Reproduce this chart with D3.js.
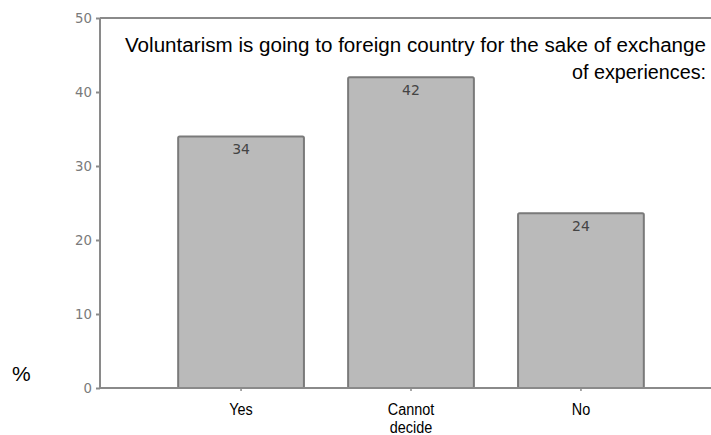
<!DOCTYPE html>
<html>
<head>
<meta charset="utf-8">
<style>
  body { margin: 0; background: #fff; }
  svg { display: block; }
  .axis path, .axis line { stroke: #8a8a8a; stroke-width: 2px; }
  .axis text { fill: #7a7a7a; font-family: "DejaVu Sans", sans-serif; font-size: 14px; }
</style>
</head>
<body>
<div id="chart"></div>
<script src="https://cdn.jsdelivr.net/npm/d3@7"></script>
<script>
var categories = [["Yes"], ["Cannot", "decide"], ["No"]];
var values = [34, 42, 23.6];
var valueLabels = ["34", "42", "24"];
var yTicks = [0, 10, 20, 30, 40, 50];
var titleLines = ["Voluntarism is going to foreign country for the sake of exchange", "of experiences:"];

var W = 711, H = 435;
var svg = d3.select("#chart").append("svg").attr("width", W).attr("height", H);

var y = d3.scaleLinear().domain([0, 50]).range([388, 18]);
var x = d3.scaleBand().domain(d3.range(values.length)).range([100, 722])
  .paddingInner(0.26).paddingOuter(0.46);

// squeeze text horizontally, like a narrow font
function narrow(sel, ratio) {
  sel.each(function() {
    var w = this.getComputedTextLength();
    d3.select(this).attr("textLength", w * ratio).attr("lengthAdjust", "spacingAndGlyphs");
  });
}

// frame: top line and left axis
svg.append("line").attr("x1", 100).attr("x2", W).attr("y1", y(50)).attr("y2", y(50))
  .attr("stroke", "#8a8a8a").attr("stroke-width", 2);

var yAxis = svg.append("g").attr("class", "axis").attr("transform", "translate(100,0)")
  .call(d3.axisLeft(y).tickValues(yTicks).tickSize(4).tickPadding(4));
yAxis.select(".domain").remove();
yAxis.selectAll("text").call(narrow, 0.95);
yAxis.append("line").attr("x1", 0).attr("x2", 0).attr("y1", y(50)).attr("y2", y(0))
  .attr("stroke", "#8a8a8a").attr("stroke-width", 2);

// bars
svg.selectAll("rect.bar").data(values).join("rect")
  .attr("class", "bar")
  .attr("x", function(d, i) { return x(i); })
  .attr("y", function(d) { return y(d); })
  .attr("width", x.bandwidth())
  .attr("height", function(d) { return y(0) - y(d); })
  .attr("rx", 1.5)
  .attr("fill", "#bababa").attr("stroke", "#7a7a7a").attr("stroke-width", 2);

svg.selectAll("text.val").data(values).join("text")
  .attr("class", "val")
  .attr("x", function(d, i) { return x(i) + x.bandwidth() / 2; })
  .attr("y", function(d) { return y(d) + 18; })
  .attr("text-anchor", "middle")
  .attr("fill", "#444").attr("font-family", "DejaVu Sans, sans-serif").attr("font-size", 14)
  .text(function(d, i) { return valueLabels[i]; });

// x axis baseline
svg.append("line").attr("x1", 100).attr("x2", W).attr("y1", y(0)).attr("y2", y(0))
  .attr("stroke", "#8a8a8a").attr("stroke-width", 2);
svg.selectAll("line.xt").data(values).join("line")
  .attr("class", "xt")
  .attr("x1", function(d, i) { return x(i) + x.bandwidth() / 2; })
  .attr("x2", function(d, i) { return x(i) + x.bandwidth() / 2; })
  .attr("y1", y(0)).attr("y2", y(0) + 3)
  .attr("stroke", "#8a8a8a").attr("stroke-width", 1.5);

svg.selectAll("text.xlab").data(categories).join("text")
  .attr("class", "xlab")
  .attr("text-anchor", "middle")
  .attr("font-family", "Liberation Sans, sans-serif").attr("font-size", 16).attr("fill", "#000")
  .attr("x", function(d, i) { return x(i) + x.bandwidth() / 2; })
  .attr("y", 415)
  .selectAll("tspan").data(function(d) { return d; }).join("tspan")
  .attr("x", function() { return d3.select(this.parentNode).attr("x"); })
  .attr("dy", function(d, i) { return i ? 18 : 0; })
  .text(function(d) { return d; })
  .call(narrow, 0.9);

// title
svg.selectAll("text.title").data(titleLines).join("text")
  .attr("class", "title")
  .attr("x", function(d, i) { return i ? 706 : 125; })
  .attr("text-anchor", function(d, i) { return i ? "end" : "start"; })
  .attr("y", function(d, i) { return 52 + i * 27; })
  .attr("font-family", "Liberation Sans, sans-serif")
  .attr("font-size", 20).attr("fill", "#000")
  .text(function(d) { return d; })
  .attr("textLength", function(d, i) { return i ? 134 : 581; })
  .attr("lengthAdjust", "spacingAndGlyphs");

svg.append("text").attr("x", 12).attr("y", 381)
  .attr("font-family", "Liberation Sans, sans-serif").attr("font-size", 21)
  .text("%");
</script>
</body>
</html>
